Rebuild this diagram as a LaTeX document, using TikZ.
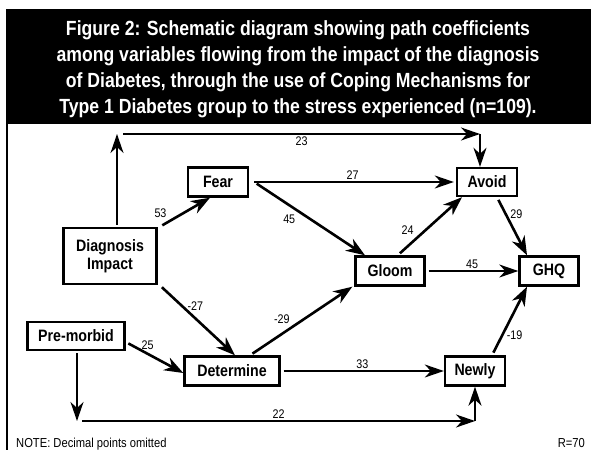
\documentclass[tikz,border=0pt]{standalone}
\usepackage{fontspec}
\setmainfont{Liberation Sans}[FakeStretch=0.86]
\usepackage{tikz}
\usetikzlibrary{arrows.meta}

\tikzset{
    var/.style={draw, rectangle, line width=2.4pt, inner sep=0pt, font=\fontsize{16.5}{18}\selectfont\bfseries, align=center},
    arr/.style={line width=1.6pt, -{Stealth[length=19pt, width=13pt, inset=6pt]}},
    arrb/.style={line width=2.6pt, -{Stealth[length=19pt, width=14pt, inset=6pt]}, shorten <=3pt},
    coef/.style={font=\fontsize{12.5}{13}\selectfont, inner sep=2pt}
}

\begin{document}
\begin{tikzpicture}[x=1pt, y=-1pt]
    \useasboundingbox (0,0) rectangle (593,450);
    % heading band and frame
    \fill[black] (6,9) rectangle (591,124);
    \draw[line width=2pt] (7,124) -- (7,450);
    \node[text=white, font=\fontsize{20.5}{26}\selectfont\bfseries, align=center] (title) at (298,69)
        {Figure 2: Schematic diagram showing path coefficients\\
         among variables flowing from the impact of the diagnosis\\
         of Diabetes, through the use of Coping Mechanisms for\\
         Type 1 Diabetes group to the stress experienced (n=109).};

    % variables
    \node[var, minimum width=93, minimum height=56] (diag) at (110,256) {Diagnosis\\Impact};
    \node[var, minimum width=60, minimum height=29] (fear) at (218,182) {Fear};
    \node[var, minimum width=60, minimum height=28] (avoid) at (487,182) {Avoid};
    \node[var, minimum width=69, minimum height=29] (gloom) at (390,271) {Gloom};
    \node[var, minimum width=59, minimum height=29] (ghq) at (549,271) {GHQ};
    \node[var, minimum width=97, minimum height=28] (premorbid) at (76,336) {Pre-morbid};
    \node[var, minimum width=95, minimum height=29] (determine) at (232,371) {Determine};
    \node[var, minimum width=60, minimum height=29] (newly) at (475,371) {Newly};

    % corners of the two long paths
    \coordinate (ul) at (117,134);
    \coordinate (ur) at (480,134);
    \coordinate (ll) at (77,421);
    \coordinate (lr) at (475,421);

    % paths
    \draw[arr, shorten <=2pt] (diag.north -| ul) -- (ul);
    \draw[arr] ([xshift=6]ul) -- (ur) node[coef, midway, below] {23};
    \draw[arr] (ur) -- (ur |- avoid.north);
    \draw[arrb] ([xshift=2]diag.north east) -- ([xshift=-8]fear.south) node[coef, pos=0.2, above left=0pt] {53};
    \draw[arr, shorten <=5pt, shorten >=2pt] (fear.east) -- (avoid.west) node[coef, midway, above] {27};
    \draw[arrb] ([xshift=5]fear.east) -- ([xshift=-25]gloom.north) node[coef, pos=0.4, below left=0pt] {45};
    \draw[arrb] ([xshift=-28]gloom.north east) -- ([xshift=-25]avoid.south) node[coef, pos=0.3, above left=0pt] {24};
    \draw[arrb] ([xshift=10]avoid.south) -- ([xshift=-22]ghq.north) node[coef, pos=0.3, right=1pt] {29};
    \draw[arr, shorten <=3pt] (gloom.east) -- (ghq.west) node[coef, midway, above] {45};
    \draw[arrb] ([xshift=2]diag.south east) -- ([xshift=3]determine.north) node[coef, pos=0.3, right=2pt] {-27};
    \draw[arrb] ([xshift=18]determine.north) -- ([xshift=-2]gloom.south west) node[coef, pos=0.42, above left=0pt] {-29};
    \draw[arrb] ([yshift=-6]premorbid.east) -- ([yshift=-2]determine.west) node[coef, pos=0.38, above=1pt] {25};
    \draw[arr, shorten <=3pt] (determine.east) -- (newly.west) node[coef, midway, above] {33};
    \draw[arrb] ([xshift=17]newly.north) -- ([xshift=-22]ghq.south) node[coef, pos=0.3, right=1pt] {-19};
    \draw[arr, shorten <=2pt] (premorbid.south -| ll) -- (ll);
    \draw[arr] ([xshift=5]ll) -- (lr) node[coef, midway, above] {22};
    \draw[arr] (lr) -- (newly.south);

    % notes
    \node[font=\fontsize{13}{14}\selectfont, anchor=base west, inner sep=0pt] (note) at (16,447) {NOTE: Decimal points omitted};
    \node[font=\fontsize{13}{14}\selectfont, anchor=base east, inner sep=0pt] (rval) at (585,447) {R=70};
\end{tikzpicture}
\end{document}
